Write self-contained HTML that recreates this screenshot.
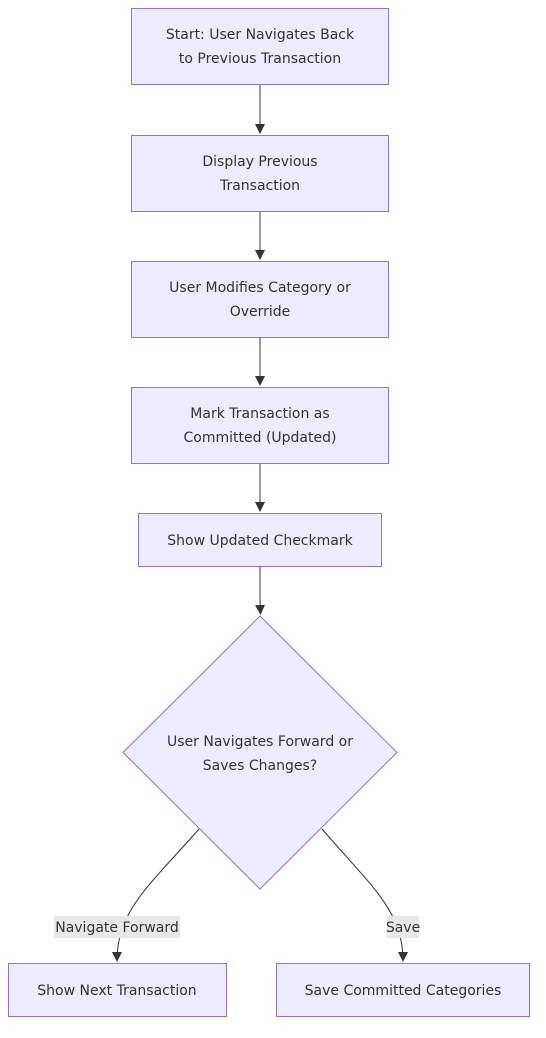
<!DOCTYPE html>
<html><head><meta charset="utf-8"><style>
html,body{margin:0;padding:0;background:#fff;}
svg{display:block;}
text{font-family:"DejaVu Sans","Liberation Sans",sans-serif;font-size:14px;fill:#333;text-anchor:middle;}
.n{fill:#ECECFF;stroke:#9370DB;stroke-width:1;}
.e{fill:none;stroke:#333;stroke-width:1;}
</style></head><body>
<svg width="546" height="1038" viewBox="0 0 546 1038" xmlns="http://www.w3.org/2000/svg">
<defs><marker id="a" viewBox="0 0 10 10" refX="9" refY="5" markerWidth="10" markerHeight="10" orient="auto"><path d="M0,0L10,5L0,10z" fill="#333"/></marker></defs>
<rect class="n" x="131.5" y="8.5" width="257" height="76"/>
<text x="260" y="39">Start: User Navigates Back</text><text x="260" y="63">to Previous Transaction</text>
<rect class="n" x="131.5" y="135.5" width="257" height="76"/>
<text x="260" y="166">Display Previous</text><text x="260" y="190">Transaction</text>
<rect class="n" x="131.5" y="261.5" width="257" height="76"/>
<text x="260" y="292">User Modifies Category or</text><text x="260" y="316">Override</text>
<rect class="n" x="131.5" y="387.5" width="257" height="76"/>
<text x="260" y="418">Mark Transaction as</text><text x="260" y="442">Committed (Updated)</text>
<rect class="n" x="138.5" y="513.5" width="243" height="53"/>
<text x="260" y="545">Show Updated Checkmark</text>
<polygon class="n" points="260,616 397,752.5 260,889 123,752.5"/>
<text x="260" y="746">User Navigates Forward or</text><text x="260" y="770">Saves Changes?</text>
<rect class="n" x="8.5" y="963.5" width="218" height="53"/>
<text x="117" y="995">Show Next Transaction</text>
<rect class="n" x="276.5" y="963.5" width="253" height="53"/>
<text x="403" y="995">Save Committed Categories</text>
<line class="e" x1="260" y1="85" x2="260" y2="133" marker-end="url(#a)"/>
<line class="e" x1="260" y1="212" x2="260" y2="259" marker-end="url(#a)"/>
<line class="e" x1="260" y1="338" x2="260" y2="385" marker-end="url(#a)"/>
<line class="e" x1="260" y1="464" x2="260" y2="511" marker-end="url(#a)"/>
<path class="e" d="M260,567 L260,595 Q260,605 260.5,614" marker-end="url(#a)"/>
<path class="e" d="M199,829 C150,885 117,910 117,961" marker-end="url(#a)"/>
<path class="e" d="M322,829 C370,885 403,910 403,961" marker-end="url(#a)"/>
<rect x="54" y="916" width="126" height="22" fill="#e8e8e8"/>
<text x="117" y="932">Navigate Forward</text>
<rect x="387" y="916" width="32" height="22" fill="#e8e8e8"/>
<text x="403" y="932">Save</text>
</svg>
</body></html>
